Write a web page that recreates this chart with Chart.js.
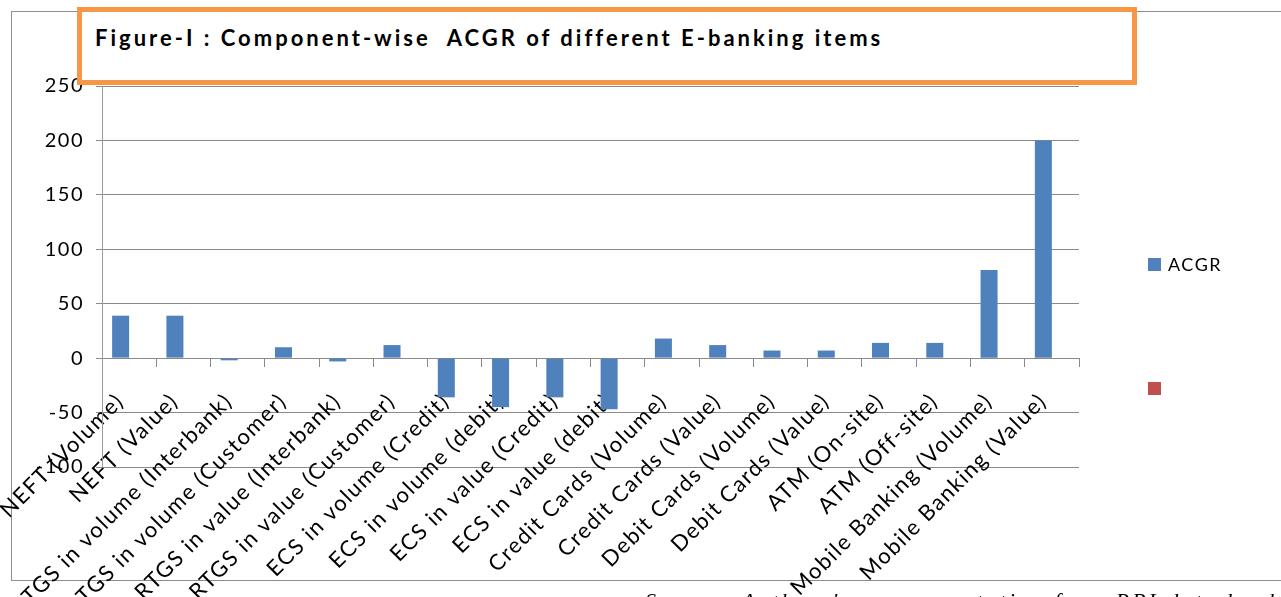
<!DOCTYPE html>
<html>
<head>
<meta charset="utf-8">
<script src="https://cdn.jsdelivr.net/npm/chart.js@4.4.1/dist/chart.umd.min.js"></script>
<style>
  html, body { margin: 0; padding: 0; background: #fff; overflow: hidden; }
  body { width: 1281px; height: 597px; position: relative; }
  #frame {
    position: absolute; left: 11px; top: 11px; width: 1300px; height: 570px;
    border: 1px solid #8c8c8c; box-sizing: border-box;
  }
  #chartBox { position: absolute; left: 0; top: 0; width: 1281px; height: 597px; }
  #titleBox {
    position: absolute; left: 77px; top: 7px; width: 1060px; height: 78px;
    border: 5px solid #f79646; box-sizing: border-box; background: #fff;
  }
  #titleBox span {
    position: absolute; left: 13px; top: 12px;
    font: bold 22px Lato, sans-serif; letter-spacing: 3px; color: #000; white-space: pre;
  }
  #source {
    position: absolute; left: 645px; top: 588px;
    font: italic 22px "Liberation Serif", serif; letter-spacing: 3px; color: #000; white-space: pre;
  }
</style>
</head>
<body>
<div id="frame"></div>
<div id="chartBox"><canvas id="chart"></canvas></div>
<div id="titleBox"><span>Figure-I : Component-wise  ACGR of different E-banking items</span></div>
<div id="source">Source: Authors' own computation from RBI data bank</div>

<script>
// categories and values
const categories = [
  'NEFT (Volume)', 'NEFT (Value)',
  'RTGS in volume (Interbank)', 'RTGS in volume (Customer)',
  'RTGS in value (Interbank)', 'RTGS in value (Customer)',
  'ECS in volume (Credit)', 'ECS in volume (debit)',
  'ECS in value (Credit)', 'ECS in value (debit)',
  'Credit Cards (Volume)', 'Credit Cards (Value)',
  'Debit Cards (Volume)', 'Debit Cards (Value)',
  'ATM (On-site)', 'ATM (Off-site)',
  'Mobile Banking (Volume)', 'Mobile Banking (Value)'
];
const acgrValues = [39, 39, -2, 10, -3, 12, -36, -45, -36, -47, 18, 12, 7, 7, 14, 14, 81, 200];
const blankValues = [];   // second series in the legend has no label and no bars

const yMin = -100;
const yMax = 250;
const yStep = 50;

const gridColor = '#8a8a8a';

// draws the two legend keys on the right, like the Excel legend
const sideLegend = {
  id: 'sideLegend',
  afterDraw(chart) {
    const ctx = chart.ctx;
    const area = chart.chartArea;
    ctx.save();
    chart.data.datasets.forEach((ds, i) => {
      const x = area.right + 69;
      const y = area.top + 172 + i * 124;
      ctx.fillStyle = ds.backgroundColor;
      ctx.fillRect(x, y, 13, 13);
      ctx.fillStyle = '#000';
      ctx.font = '18px Lato, sans-serif';
      ctx.textBaseline = 'middle';
      ctx.fillText(ds.label, x + 20, y + 7);
    });
    ctx.restore();
  }
};

const spacing = {
  id: 'spacing',
  beforeDraw(chart) {
    if ('letterSpacing' in chart.ctx) chart.ctx.letterSpacing = '1.5px';
  }
};

new Chart(document.getElementById('chart'), {
  type: 'bar',
  data: {
    labels: categories,
    datasets: [
      { label: 'ACGR', data: acgrValues, backgroundColor: '#4f81bd' },
      { label: '', data: blankValues, backgroundColor: '#c0504d' }
    ]
  },
  options: {
    responsive: true,
    maintainAspectRatio: false,
    animation: false,
    devicePixelRatio: 1,
    categoryPercentage: 0.627,
    barPercentage: 1.0,
    layout: { padding: { top: 86, right: 202, left: 0, bottom: 130 } },
    plugins: {
      legend: { display: false },
      tooltip: { enabled: false }
    },
    scales: {
      x: {
        position: { y: 0 },
        grid: { drawOnChartArea: false, drawTicks: true, tickLength: 8, color: gridColor, offset: true },
        border: { display: true, color: gridColor, width: 1 },
        ticks: {
          autoSkip: false,
          minRotation: 45,
          maxRotation: 45,
          padding: 22,
          labelOffset: -9,
          color: '#000',
          font: { family: 'Lato', size: 22 }
        }
      },
      y: {
        min: yMin,
        max: yMax,
        afterFit: scale => { scale.width = 102; },
        grid: { color: gridColor, lineWidth: 1, drawTicks: true, tickLength: 6 },
        border: { display: true, color: '#9a9a9a', width: 1 },
        ticks: {
          stepSize: yStep,
          padding: 12,
          color: '#000',
          font: { family: 'Lato', size: 20 }
        }
      }
    }
  },
  plugins: [sideLegend, spacing]
});
</script>
</body>
</html>
